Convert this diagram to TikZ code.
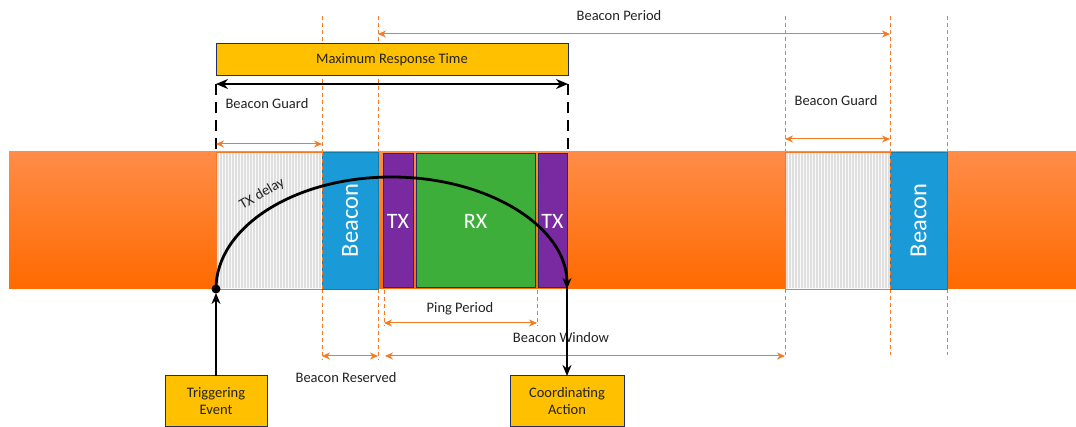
\documentclass[tikz,border=0pt]{standalone}
\usepackage{fontspec}
\setmainfont{Carlito}
\usetikzlibrary{arrows.meta}
\definecolor{borange}{HTML}{F47A24}
\definecolor{bandtop}{HTML}{FF8C48}
\definecolor{bandbot}{HTML}{FF6A00}
\definecolor{bblue}{HTML}{1A9AD6}
\definecolor{bpurple}{HTML}{7A2AA0}
\definecolor{bgreen}{HTML}{3EAE3A}
\definecolor{bnavy}{HTML}{1F2F6A}
\definecolor{byellow}{HTML}{FFC000}
\definecolor{btext}{HTML}{222222}
\tikzset{
  blk/.style={inner sep=0pt, outer sep=0pt},
  guardbox/.style={blk, draw=borange, line width=0.8pt},
  beaconbox/.style={blk, fill=bblue, draw=bblue!80!black, line width=0.6pt, text=white, font=\fontsize{24.5}{26}\selectfont, rotate=90},
  txbox/.style={blk, fill=bpurple, draw=bnavy, line width=1pt, text=white, font=\fontsize{22}{24}\selectfont},
  rxbox/.style={blk, fill=bgreen, draw=bnavy, line width=1pt, text=white, font=\fontsize{22}{24}\selectfont},
  ybox/.style={blk, fill=byellow, draw=bnavy, line width=1pt, text=btext, font=\fontsize{14.5}{17}\selectfont, align=center},
  lbl/.style={text=btext, font=\fontsize{14.5}{17}\selectfont, inner sep=1pt},
  guide/.style={borange, line width=0.9pt, dash pattern=on 4pt off 3pt},
  oarrow/.style={borange, line width=1pt, {Stealth[length=8pt,width=7pt]}-{Stealth[length=8pt,width=7pt]}},
  karrow/.style={black, line width=2pt},
  kdash/.style={black, line width=2.8pt, dash pattern=on 11pt off 7pt},
}
\begin{document}
\begin{tikzpicture}[x=1pt,y=-1pt]
\useasboundingbox (0,0) rectangle (1076,427);
% guides (behind the band)
\foreach \x in {322,378} \draw[guide] (\x,16) -- (\x,360);
\foreach \x in {785,890,947} \draw[guide] (\x,16) -- (\x,355);
\foreach \x in {384,537} \draw[guide] (\x,290) -- (\x,326);
% band
\node[blk, top color=bandtop, bottom color=bandbot, minimum width=1067pt, minimum height=137pt] (band) at (542.5,220.5) {};
% guard boxes with stripes
\node[blk, fill=gray!5, minimum width=106pt, minimum height=137pt] (g1) at (269,220.5) {};
\foreach \i in {0,...,69} \draw[gray!25, line width=0.35pt] (217+1.5*\i,153) -- (217+1.5*\i,288);
\node[guardbox, minimum width=106pt, minimum height=137pt] (g1b) at (269,220.5) {};
\node[blk, fill=gray!5, minimum width=105pt, minimum height=137pt] (g2) at (837.5,220.5) {};
\foreach \i in {0,...,69} \draw[gray!25, line width=0.35pt] (786+1.5*\i,153) -- (786+1.5*\i,288);
\node[guardbox, minimum width=105pt, minimum height=137pt] (g2b) at (837.5,220.5) {};
% beacons
\node[beaconbox, minimum width=137pt, minimum height=56pt] (b1) at (350,220.5) {Beacon};
\node[beaconbox, minimum width=137pt, minimum height=57pt] (b2) at (918.5,220.5) {Beacon};
\draw[guide] (322,152) -- (322,289);
\draw[guide] (890,152) -- (890,289);
% TX RX
\node[txbox, minimum width=30pt, minimum height=134pt] (tx1) at (398,221) {TX};
\node[rxbox, minimum width=119pt, minimum height=134pt] (rx) at (475.5,221) {RX};
\node[txbox, minimum width=29pt, minimum height=134pt] (tx2) at (552.5,221) {TX};
% maximum response time
\node[ybox, minimum width=352pt, minimum height=32pt] (mrt) at (392,60) {Maximum Response Time};
\coordinate (ml) at (216,84);
\coordinate (mr) at (568,84);
\draw[black, line width=1.6pt, {Stealth[length=12pt,width=10pt]}-{Stealth[length=12pt,width=10pt]}] (ml) -- (mr);
\coordinate (mlb) at (216,152);
\coordinate (mrb) at (568,152);
\draw[kdash] (ml) -- (mlb);
\draw[kdash] (mr) -- (mrb);
% orange dimension arrows
\coordinate (bp1) at (378,34); \coordinate (bp2) at (890,34);
\draw[oarrow] (bp1) -- (bp2);
\node[lbl] (bpl) at (619,16) {Beacon Period};
\coordinate (bg1) at (216,144); \coordinate (bg2) at (322,144);
\draw[oarrow] (bg1) -- (bg2);
\node[lbl] (bgl) at (267,104) {Beacon Guard};
\coordinate (bg3) at (785,139); \coordinate (bg4) at (890,139);
\draw[oarrow] (bg3) -- (bg4);
\node[lbl] (bgr) at (836,101) {Beacon Guard};
\coordinate (pp1) at (384,323); \coordinate (pp2) at (537,323);
\draw[oarrow] (pp1) -- (pp2);
\node[lbl] (ppl) at (460,309) {Ping Period};
\coordinate (bw1) at (385,356); \coordinate (bw2) at (785,356);
\draw[oarrow] (bw1) -- (bw2);
\node[lbl] (bwl) at (561,338) {Beacon Window};
\coordinate (br1) at (322,356); \coordinate (br2) at (378,356);
\draw[oarrow] (br1) -- (br2);
\node[lbl] (brl) at (346,378) {Beacon Reserved};
% events
\node[ybox, minimum width=102pt, minimum height=50pt] (trig) at (216,401) {Triggering\\Event};
\node[ybox, minimum width=114pt, minimum height=50pt] (coord) at (567,401) {Coordinating\\Action};
\coordinate (ev) at (216,289);
\coordinate (act) at (567,289);
\draw[karrow, -{Stealth[length=11pt,width=9pt]}] (trig.north) -- ([yshift=-4pt]ev);
\draw[karrow, {Stealth[length=11pt,width=9pt]}-] (coord.north) -- ([yshift=8pt]act);
\draw[karrow, line width=2.8pt, -{Stealth[length=11pt,width=9pt]}] (ev) arc[start angle=180, end angle=0, x radius=175.5pt, y radius=112pt];
\fill[black] (ev) circle[radius=4.5pt];
\node[lbl, rotate=30, font=\fontsize{14.5}{16}\selectfont] (txd) at (262,194) {TX delay};
\end{tikzpicture}
\end{document}
